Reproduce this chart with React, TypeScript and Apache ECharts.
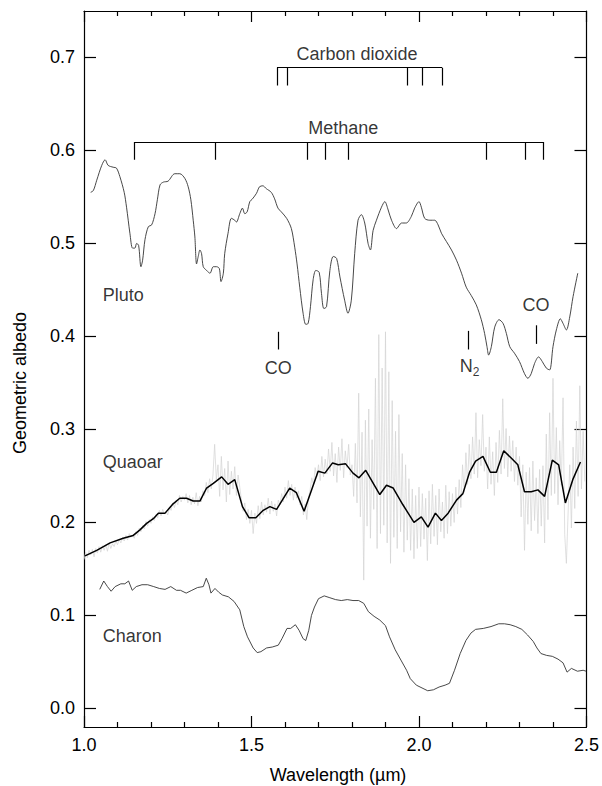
import React, { useEffect, useRef } from "react";
import * as echarts from "echarts";

// Pluto spectrum [wavelength µm, geometric albedo]
const plutoSpectrum: number[][] = [
  [1.020,0.555],[1.028,0.557],[1.038,0.568],[1.053,0.584],[1.063,0.590],[1.072,0.584],[1.087,0.582],[1.097,0.581],[1.107,0.572],[1.120,0.555],
  [1.127,0.539],[1.132,0.525],[1.137,0.511],[1.145,0.495],[1.152,0.495],[1.157,0.500],[1.163,0.498],[1.170,0.475],[1.175,0.482],[1.182,0.504],
  [1.192,0.518],[1.202,0.520],[1.212,0.532],[1.219,0.547],[1.227,0.563],[1.237,0.566],[1.251,0.567],[1.271,0.575],[1.286,0.575],[1.301,0.570],
  [1.311,0.561],[1.319,0.547],[1.326,0.525],[1.331,0.507],[1.336,0.478],[1.341,0.486],[1.346,0.493],[1.351,0.489],[1.356,0.475],[1.366,0.471],
  [1.376,0.468],[1.386,0.475],[1.396,0.475],[1.404,0.473],[1.409,0.459],[1.416,0.468],[1.420,0.489],[1.430,0.511],[1.440,0.527],[1.450,0.525],
  [1.455,0.523],[1.465,0.532],[1.473,0.538],[1.480,0.532],[1.487,0.534],[1.495,0.545],[1.503,0.548],[1.515,0.554],[1.524,0.561],[1.534,0.562],
  [1.544,0.559],[1.559,0.555],[1.569,0.548],[1.579,0.538],[1.589,0.534],[1.605,0.527],[1.619,0.516],[1.629,0.496],[1.636,0.478],[1.644,0.453],
  [1.654,0.425],[1.662,0.413],[1.669,0.414],[1.676,0.432],[1.684,0.461],[1.692,0.471],[1.702,0.469],[1.709,0.446],[1.716,0.430],[1.724,0.432],
  [1.734,0.471],[1.744,0.486],[1.754,0.484],[1.764,0.464],[1.778,0.439],[1.788,0.425],[1.798,0.439],[1.808,0.489],[1.818,0.525],[1.828,0.531],
  [1.838,0.522],[1.848,0.500],[1.855,0.493],[1.863,0.514],[1.873,0.525],[1.888,0.539],[1.898,0.545],[1.908,0.536],[1.918,0.525],[1.933,0.516],
  [1.948,0.522],[1.962,0.522],[1.977,0.529],[1.987,0.538],[2.000,0.545],[2.007,0.539],[2.017,0.527],[2.032,0.525],[2.047,0.525],[2.057,0.520],
  [2.067,0.511],[2.082,0.502],[2.097,0.493],[2.112,0.482],[2.127,0.468],[2.141,0.453],[2.156,0.444],[2.171,0.434],[2.186,0.418],[2.196,0.403],
  [2.203,0.389],[2.208,0.380],[2.216,0.389],[2.226,0.410],[2.239,0.418],[2.251,0.414],[2.261,0.403],[2.271,0.389],[2.285,0.382],[2.300,0.373],
  [2.315,0.360],[2.325,0.355],[2.335,0.360],[2.345,0.371],[2.357,0.378],[2.368,0.373],[2.380,0.366],[2.390,0.364],[2.400,0.389],[2.410,0.407],
  [2.422,0.419],[2.430,0.414],[2.440,0.407],[2.450,0.421],[2.460,0.443],[2.474,0.468]
];

// Charon spectrum
const charonSpectrum: number[][] = [
  [1.047,0.128],[1.059,0.137],[1.070,0.131],[1.081,0.126],[1.093,0.131],[1.110,0.134],[1.122,0.134],[1.133,0.137],[1.144,0.127],[1.156,0.131],
  [1.173,0.133],[1.190,0.133],[1.208,0.131],[1.225,0.129],[1.242,0.128],[1.259,0.131],[1.276,0.127],[1.288,0.127],[1.305,0.124],[1.322,0.127],
  [1.339,0.130],[1.356,0.131],[1.365,0.140],[1.373,0.133],[1.379,0.124],[1.391,0.129],[1.402,0.125],[1.413,0.122],[1.431,0.120],[1.448,0.115],
  [1.465,0.106],[1.477,0.088],[1.488,0.077],[1.505,0.065],[1.517,0.060],[1.528,0.061],[1.545,0.065],[1.562,0.066],[1.580,0.068],[1.591,0.075],
  [1.606,0.086],[1.617,0.086],[1.631,0.090],[1.642,0.084],[1.654,0.075],[1.662,0.073],[1.671,0.084],[1.679,0.100],[1.688,0.109],[1.700,0.118],
  [1.717,0.121],[1.734,0.119],[1.751,0.117],[1.768,0.116],[1.786,0.117],[1.803,0.116],[1.820,0.116],[1.835,0.113],[1.849,0.104],[1.866,0.099],
  [1.883,0.095],[1.900,0.089],[1.912,0.077],[1.929,0.063],[1.946,0.052],[1.963,0.041],[1.974,0.032],[1.992,0.025],[2.009,0.022],[2.026,0.019],
  [2.043,0.020],[2.060,0.023],[2.078,0.025],[2.091,0.027],[2.106,0.041],[2.123,0.059],[2.140,0.073],[2.155,0.081],[2.169,0.085],[2.192,0.086],
  [2.215,0.088],[2.238,0.091],[2.255,0.091],[2.272,0.090],[2.289,0.088],[2.307,0.085],[2.324,0.079],[2.341,0.072],[2.352,0.065],[2.364,0.059],
  [2.381,0.057],[2.398,0.056],[2.415,0.053],[2.430,0.049],[2.442,0.039],[2.455,0.043],[2.473,0.040],[2.490,0.041],[2.499,0.040]
];

// Quaoar raw (noisy) spectrum, sampled every 0.005 µm from 1.000 µm
const quaoarRawStart = 1.0;
const quaoarRawStep = 0.005;
const quaoarRaw: number[] = [
  0.160,0.168,0.162,0.170,0.165,0.171,0.163,0.172,0.167,0.174,0.168,0.175,0.170,0.176,0.169,0.178,0.172,0.177,0.174,0.180,
  0.176,0.182,0.178,0.184,0.180,0.186,0.181,0.188,0.184,0.187,0.183,0.190,0.186,0.194,0.190,0.197,0.193,0.201,0.196,0.203,
  0.199,0.206,0.202,0.209,0.205,0.213,0.207,0.214,0.209,0.212,0.208,0.216,0.213,0.221,0.216,0.224,0.219,0.229,0.222,0.228,
  0.224,0.231,0.221,0.229,0.219,0.227,0.220,0.232,0.218,0.228,0.222,0.234,0.229,0.243,0.232,0.247,0.236,0.251,0.284,0.246,
  0.262,0.228,0.271,0.235,0.258,0.222,0.266,0.230,0.255,0.236,0.260,0.229,0.251,0.238,0.224,0.212,0.221,0.203,0.214,0.199,
  0.213,0.188,0.210,0.199,0.218,0.204,0.222,0.208,0.219,0.211,0.226,0.209,0.223,0.212,0.220,0.207,0.224,0.219,0.231,0.222,
  0.238,0.226,0.245,0.229,0.241,0.224,0.238,0.226,0.234,0.219,0.228,0.208,0.220,0.203,0.226,0.235,0.248,0.240,0.259,0.249,
  0.262,0.245,0.271,0.249,0.268,0.252,0.279,0.255,0.286,0.250,0.274,0.243,0.281,0.256,0.290,0.248,0.277,0.259,0.284,0.251,
  0.262,0.228,0.285,0.221,0.339,0.206,0.297,0.138,0.310,0.196,0.322,0.183,0.289,0.214,0.355,0.172,0.402,0.188,0.366,0.197,
  0.405,0.178,0.362,0.156,0.331,0.184,0.298,0.172,0.316,0.190,0.274,0.168,0.262,0.181,0.247,0.170,0.236,0.161,0.229,0.172,
  0.238,0.174,0.231,0.182,0.226,0.159,0.234,0.177,0.241,0.185,0.229,0.176,0.236,0.190,0.222,0.183,0.240,0.188,0.233,0.196,
  0.231,0.200,0.238,0.209,0.246,0.216,0.262,0.232,0.275,0.241,0.284,0.247,0.292,0.252,0.318,0.248,0.289,0.261,0.316,0.255,
  0.281,0.236,0.292,0.241,0.276,0.229,0.286,0.243,0.299,0.252,0.333,0.258,0.301,0.249,0.293,0.255,0.288,0.244,0.281,0.240,
  0.271,0.206,0.262,0.170,0.254,0.198,0.259,0.191,0.266,0.202,0.248,0.188,0.257,0.196,0.261,0.178,0.295,0.203,0.318,0.229,
  0.355,0.231,0.302,0.219,0.288,0.240,0.334,0.187,0.156,0.209,0.262,0.194,0.281,0.215,0.309,0.228,0.347,0.236,0.298,0.244
];

// Quaoar binned spectrum
const quaoarBinned: number[][] = [
  [1.003,0.164],[1.038,0.170],[1.078,0.178],[1.117,0.183],[1.147,0.186],[1.167,0.192],[1.187,0.199],[1.207,0.204],[1.222,0.210],[1.242,0.210],
  [1.266,0.220],[1.286,0.226],[1.306,0.226],[1.326,0.223],[1.346,0.223],[1.366,0.237],[1.386,0.242],[1.411,0.249],[1.430,0.241],[1.450,0.246],
  [1.473,0.217],[1.493,0.205],[1.513,0.205],[1.535,0.213],[1.555,0.217],[1.575,0.214],[1.614,0.237],[1.634,0.232],[1.657,0.212],[1.699,0.255],
  [1.719,0.253],[1.742,0.264],[1.759,0.262],[1.781,0.263],[1.803,0.253],[1.821,0.248],[1.841,0.256],[1.883,0.230],[1.903,0.240],[1.923,0.237],
  [1.952,0.219],[1.985,0.200],[2.007,0.206],[2.027,0.195],[2.049,0.210],[2.067,0.202],[2.087,0.210],[2.112,0.224],[2.131,0.231],[2.151,0.254],
  [2.169,0.266],[2.191,0.271],[2.213,0.254],[2.231,0.254],[2.253,0.277],[2.276,0.269],[2.295,0.262],[2.315,0.233],[2.335,0.233],[2.355,0.235],
  [2.375,0.228],[2.398,0.267],[2.417,0.262],[2.437,0.221],[2.459,0.246],[2.482,0.265]
];

// Band markers
const co2Bands = [1.576, 1.608, 1.966, 2.011, 2.069];
const co2BracketTop = 0.689;
const co2BracketBottom = 0.670;
const methaneBands = [1.150, 1.391, 1.665, 1.720, 1.790, 2.201, 2.316, 2.372];
const methaneBracketTop = 0.609;
const methaneBracketBottom = 0.590;
// single markers: [wavelength, bottom, top]
const singleMarkers: number[][] = [
  [1.580, 0.386, 0.405],
  [2.146, 0.386, 0.406],
  [2.349, 0.392, 0.412]
];

// text labels: [text, wavelength, albedo, align]
const textLabels: [string, number, number, string][] = [
  ["Carbon dioxide", 1.815, 0.704, "center"],
  ["Methane", 1.774, 0.624, "center"],
  ["CO", 1.580, 0.366, "center"],
  ["{n|N}{s|2}", 2.151, 0.368, "center"],
  ["CO", 2.349, 0.434, "center"],
  ["Pluto", 1.056, 0.445, "left"],
  ["Quaoar", 1.056, 0.265, "left"],
  ["Charon", 1.056, 0.078, "left"]
];

const yTickValues = [0, 0.1, 0.2, 0.3, 0.4, 0.5, 0.6, 0.7];
const xMin = 1.0, xMax = 2.5, xMajor = 0.5;
const yMin = -0.02, yMax = 0.75;

const FONT = "'Liberation Sans', Arial, Helvetica, sans-serif";
const INK = "#000";

export default function App() {
  const ref = useRef<HTMLDivElement>(null);
  useEffect(() => {
    const chart = echarts.init(ref.current as HTMLDivElement, null, { renderer: "svg" });

    const segs: any[] = [];
    const bracket = (bands: number[], top: number, bottom: number) => {
      segs.push({ coords: [[bands[0], top], [bands[bands.length - 1], top]] });
      bands.forEach((b) => segs.push({ coords: [[b, top], [b, bottom]] }));
    };
    bracket(co2Bands, co2BracketTop, co2BracketBottom);
    bracket(methaneBands, methaneBracketTop, methaneBracketBottom);
    singleMarkers.forEach((m) => segs.push({ coords: [[m[0], m[1]], [m[0], m[2]]] }));

    const labelData = textLabels.map(([t, x, y, align]) => ({
      value: [x, y],
      label: {
        show: true,
        formatter: t,
        position: align === "left" ? "right" : "inside",
        distance: 0,
        align: align,
        verticalAlign: "middle",
        fontSize: 18,
        fontFamily: FONT,
        color: INK,
        rich: {
          n: { fontSize: 18, lineHeight: 24, fontFamily: FONT, color: INK },
          s: { fontSize: 12, lineHeight: 12, verticalAlign: "bottom", fontFamily: FONT, color: INK }
        }
      }
    }));

    const rawData = quaoarRaw.map((v, i) => [quaoarRawStart + i * quaoarRawStep, v]);

    const axisLineStyle = { color: "#000", width: 1.2 };
    const mkX = (pos: string, showLabel: boolean) => ({
      type: "value",
      position: pos,
      min: xMin,
      max: xMax,
      interval: xMajor,
      axisLine: { show: true, onZero: false, lineStyle: axisLineStyle },
      axisTick: { show: true, inside: true, length: 11, lineStyle: axisLineStyle },
      minorTick: { show: true, splitNumber: 5, length: 5, lineStyle: axisLineStyle },
      axisLabel: {
        show: showLabel,
        fontSize: 18,
        fontFamily: FONT,
        color: INK,
        margin: 9,
        formatter: (v: number) => v.toFixed(1)
      },
      splitLine: { show: false },
      minorSplitLine: { show: false }
    });
    const mkY = (pos: string, showLabel: boolean) => ({
      type: "value",
      position: pos,
      min: yMin,
      max: yMax,
      axisLine: { show: true, onZero: false, lineStyle: axisLineStyle },
      axisTick: { show: true, inside: true, length: 12, lineStyle: axisLineStyle, customValues: yTickValues },
      axisLabel: {
        show: showLabel,
        fontSize: 18,
        fontFamily: FONT,
        color: INK,
        margin: 9,
        customValues: yTickValues,
        formatter: (v: number) => v.toFixed(1)
      },
      splitLine: { show: false }
    });

    chart.setOption({
      animation: false,
      backgroundColor: "#fff",
      grid: { left: 84, top: 11, right: 15, bottom: 59, containLabel: false },
      xAxis: [mkX("bottom", true), mkX("top", false)],
      yAxis: [mkY("left", true), mkY("right", false)],
      graphic: [
        {
          type: "text",
          x: 20,
          y: 383,
          rotation: Math.PI / 2,
          style: { text: "Geometric albedo", fontSize: 18, fontFamily: FONT, fill: INK, textAlign: "center", textVerticalAlign: "middle" }
        },
        {
          type: "text",
          x: 338,
          y: 775,
          style: { text: "Wavelength (\u00b5m)", fontSize: 18, fontFamily: FONT, fill: INK, textAlign: "center", textVerticalAlign: "middle" }
        }
      ],
      series: [
        {
          type: "line",
          name: "Quaoar raw",
          data: rawData,
          showSymbol: false,
          lineStyle: { color: "#d2d2d2", width: 0.7 },
          z: 1
        },
        {
          type: "line",
          name: "Quaoar binned",
          data: quaoarBinned,
          showSymbol: false,
          lineStyle: { color: "#000", width: 1.5 },
          z: 3
        },
        {
          type: "line",
          name: "Pluto",
          data: plutoSpectrum,
          showSymbol: false,
          smooth: 0.3,
          lineStyle: { color: "#333", width: 0.9 },
          z: 3
        },
        {
          type: "line",
          name: "Charon",
          data: charonSpectrum,
          showSymbol: false,
          lineStyle: { color: "#333", width: 0.9 },
          z: 3
        },
        {
          type: "lines",
          coordinateSystem: "cartesian2d",
          data: segs,
          lineStyle: { color: "#000", width: 1.2, opacity: 1 },
          z: 4
        },
        {
          type: "scatter",
          data: labelData,
          symbolSize: 0,
          silent: true,
          z: 5
        }
      ]
    });
    return () => chart.dispose();
  }, []);
  return (
    <div
      ref={ref}
      style={{ position: "absolute", left: 0, top: 0, width: 602, height: 786, background: "#fff" }}
    />
  );
}
